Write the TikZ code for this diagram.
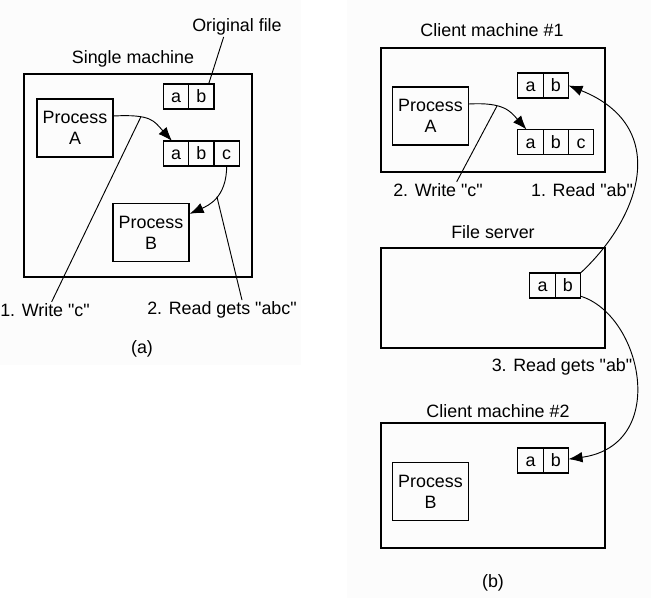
\documentclass[tikz,border=0pt]{standalone}
\usepackage{fontspec}
\setmainfont{Liberation Sans}[Ligatures=TeXOff]
\usetikzlibrary{arrows.meta,calc,positioning}
\definecolor{paper}{HTML}{FCFCFC}

\tikzset{
  machine/.style={line width=2.2pt},
  procbox/.style={draw,line width=0.9pt,minimum width=57pt,minimum height=43.5pt,
    align=center,inner sep=0pt},
  cell/.style={draw,line width=0.9pt,minimum width=19pt,minimum height=18.75pt,inner sep=0pt,
    outer sep=0pt,text height=9.4pt,text depth=0pt},
  lbl/.style={inner sep=1pt},
  flow/.style={line width=0.7pt,-{Latex[length=10.5pt,width=8pt]}},
  leader/.style={line width=0.7pt}
}

\begin{document}
\begin{tikzpicture}[x=0.75pt,y=-0.75pt,font=\fontsize{13.4}{15.8}\selectfont]
  \useasboundingbox (0,0) rectangle (651,598);
  \fill[paper] (0,0) rectangle (301,365);
  \fill[paper] (347,0) rectangle (651,598);

  % (a) single machine
  \draw[machine] (24,74) rectangle (252,277);
  \node[lbl] (smlbl) at (133,59) {Single machine};
  \node[lbl] (origlbl) at (237,27) {Original file};
  \node[cell] (oa) at (176,96.5) {a};
  \node[cell,right=0pt of oa] (ob) {b};
  \node[procbox] (pa) at (75,128) {Process\\A};
  \node[cell] (xa) at (176,153.5) {a};
  \node[cell,right=0pt of xa] (xb) {b};
  \node[cell,right=0pt of xb] (xc) {c};
  \node[procbox] (pb) at (151,232.5) {Process\\B};
  \draw[flow] ([yshift=9pt]pa.east) .. controls +(38,-2) and +(-18,-20) ..
    coordinate[pos=0.32] (wa) ([xshift=-3pt]xa.north);
  \draw[flow] (xc.south) .. controls +(0,32) and +(18,-8) ..
    coordinate[pos=0.45] (ra) ([yshift=14pt]pb.east);
  \node[lbl] (wlbl) at (45,310) {1. Write "c"};
  \node[lbl] (rlbl) at (222,310) {2. Read gets "abc"};
  \draw[leader] ([xshift=5pt]wlbl.north) -- (wa);
  \draw[leader] ([xshift=15pt]rlbl.north) -- (ra);
  \draw[leader] ([xshift=-10pt]origlbl.south) -- ([xshift=-4pt]ob.north east);
  \node[lbl] (alb) at (142,349) {(a)};

  % (b) client 1
  \draw[machine] (381,48) rectangle (605,172);
  \node[lbl] (c1lbl) at (492,30) {Client machine \#1};
  \node[cell] (ca) at (530.5,85.5) {a};
  \node[cell,right=0pt of ca] (cb) {b};
  \node[procbox] (cpa) at (430.5,116) {Process\\A};
  \node[cell] (da) at (530.5,142) {a};
  \node[cell,right=0pt of da] (db) {b};
  \node[cell,right=0pt of db] (dc) {c};
  \draw[flow] ([yshift=9pt]cpa.east) .. controls +(35,-2) and +(-16,-18) ..
    coordinate[pos=0.35] (wb) ([xshift=-3pt]da.north);
  \node[lbl] (w2lbl) at (438,190) {2. Write "c"};
  \node[lbl] (r1lbl) at (582,190) {1. Read "ab"};
  \draw[leader] ([xshift=14pt]w2lbl.north) -- (wb);

  % file server
  \draw[machine] (381,248) rectangle (605,348);
  \node[lbl] (fslbl) at (493,232) {File server};
  \node[cell] (sa) at (542.5,285.5) {a};
  \node[cell,right=0pt of sa] (sb) {b};
  \draw[flow] (sb.north east) .. controls (642,216) and (670,126) .. (cb.east);
  \node[lbl] (r3lbl) at (562,367) {3. Read gets "ab"};

  % client 2
  \draw[machine] (381,423) rectangle (605,548);
  \node[lbl] (c2lbl) at (498,411) {Client machine \#2};
  \node[cell] (ea) at (530.5,460.5) {a};
  \node[cell,right=0pt of ea] (eb) {b};
  \node[procbox] (cpb) at (430.5,491.5) {Process\\B};
  \draw[flow] ([yshift=-8pt]sb.east) .. controls (642,315) and (670,445) .. ([yshift=1pt]eb.east);
  \node[lbl] (blb) at (493,583) {(b)};
\end{tikzpicture}
\end{document}
